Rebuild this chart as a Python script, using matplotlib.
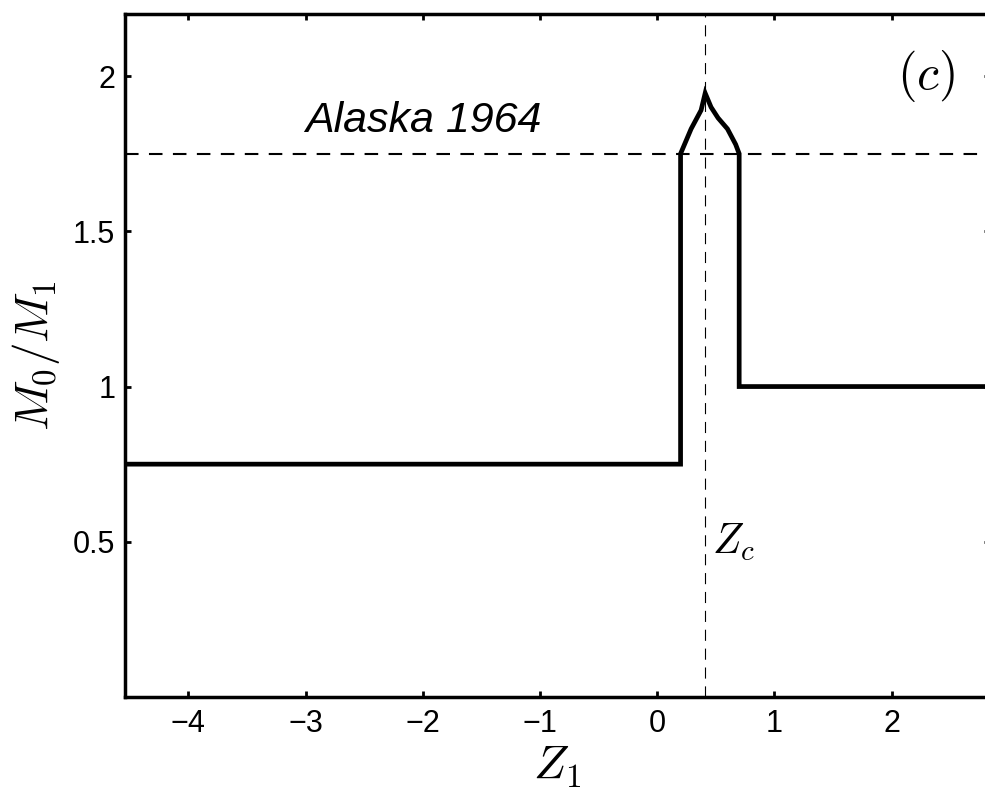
import matplotlib
matplotlib.use("Agg")
import matplotlib.pyplot as plt

plt.rcParams['font.family'] = ['Liberation Sans', 'DejaVu Sans']
plt.rcParams['mathtext.fontset'] = 'cm'

# curve M0/M1 vs Z1
z1 = [-4.54, 0.2, 0.2, 0.29, 0.375, 0.41, 0.46, 0.52, 0.60, 0.67, 0.70, 0.70, 2.84]
ratio = [0.75, 0.75, 1.75, 1.83, 1.89, 1.945, 1.90, 1.865, 1.83, 1.78, 1.75, 1.0, 1.0]

alaska = 1.75
zc = 0.41

xticks = [-4, -3, -2, -1, 0, 1, 2]
yticks = [0.5, 1, 1.5, 2]
ytick_labels = ['0.5', '1', '1.5', '2']

fig = plt.figure(figsize=(9.85, 7.94), dpi=100)
ax = fig.add_axes([125 / 985, 1 - 697 / 794, 865 / 985, 683 / 794])

ax.plot(z1, ratio, color='k', lw=3.4, solid_joinstyle='miter')
ax.axhline(alaska, color='k', lw=1.5, dashes=(6.5, 5))
ax.axvline(zc, color='k', lw=0.8, dashes=(10, 7))

ax.text(-3.0, 1.82, 'Alaska 1964', fontsize=31, style='italic')
ax.text(2.29, 2.0, r'$(c)$', fontsize=36, ha='center', va='center')
ax.text(0.47, 0.46, r'$Z_c$', fontsize=30)

ax.set_xlim(-4.54, 2.84)
ax.set_ylim(0, 2.2)
ax.set_xticks(xticks)
ax.set_xticklabels(['\u2212' + str(-t) if t < 0 else str(t) for t in xticks])
ax.set_yticks(yticks)
ax.set_yticklabels(ytick_labels)

ax.tick_params(direction='in', length=4.5, width=2, labelsize=22, top=True, right=True)
ax.tick_params(axis='y', pad=7)
ax.tick_params(axis='x', pad=9)
for s in ax.spines.values():
    s.set_linewidth(2.5)

ax.set_xlabel(r'$Z_1$', fontsize=34, labelpad=3)
ax.set_ylabel(r'$M_0/M_1$', fontsize=34, labelpad=8)

fig.savefig('out.png', dpi=100)
